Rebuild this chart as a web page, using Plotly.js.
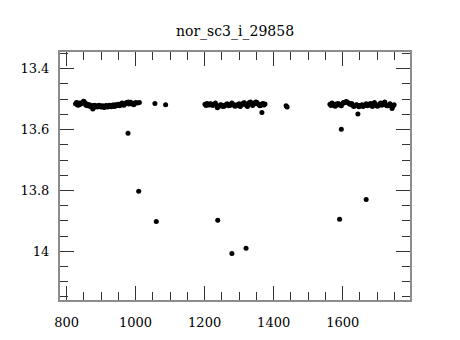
<!DOCTYPE html>
<html>
<head>
<meta charset="utf-8">
<script src="https://cdn.plot.ly/plotly-3.0.1.min.js"></script>
<style>html,body{margin:0;padding:0;background:#fff;}#chart{width:460px;height:340px;}</style>
</head>
<body>
<div id="chart"></div>
<script>
const chartTitle = "nor_sc3_i_29858";

// Segment 1 of the light curve
const band1X = [826, 829, 831, 834, 836, 839, 841, 844, 846, 849, 851, 854, 856, 859, 861, 864, 866, 869, 871, 874, 876, 879, 881, 884, 886, 889, 891, 894, 896, 899, 901, 904, 906, 909, 911, 914, 916, 919, 921, 924, 926, 929, 931, 934, 936, 939, 941, 944, 946, 949, 951, 954, 956, 959, 961, 964, 966, 969, 971, 974, 976, 979, 981, 984, 986, 989, 991, 994, 996, 999, 1001, 1006, 1011, 1056, 1087];
const band1Y = [13.515, 13.511, 13.518, 13.52, 13.513, 13.517, 13.516, 13.512, 13.512, 13.507, 13.508, 13.514, 13.52, 13.516, 13.522, 13.519, 13.518, 13.524, 13.525, 13.521, 13.532, 13.527, 13.52, 13.524, 13.522, 13.526, 13.524, 13.52, 13.521, 13.525, 13.526, 13.522, 13.523, 13.527, 13.525, 13.521, 13.522, 13.526, 13.524, 13.52, 13.521, 13.525, 13.523, 13.519, 13.52, 13.524, 13.518, 13.522, 13.521, 13.517, 13.519, 13.522, 13.517, 13.514, 13.513, 13.518, 13.52, 13.516, 13.515, 13.511, 13.512, 13.509, 13.516, 13.513, 13.51, 13.514, 13.514, 13.518, 13.517, 13.512, 13.512, 13.513, 13.511, 13.514, 13.518];

// Segment 2
const band2X = [1201, 1204, 1207, 1210, 1213, 1216, 1219, 1222, 1225, 1228, 1231, 1234, 1237, 1240, 1243, 1246, 1249, 1252, 1255, 1258, 1261, 1264, 1267, 1270, 1273, 1276, 1279, 1282, 1285, 1288, 1291, 1294, 1297, 1300, 1303, 1306, 1309, 1312, 1315, 1318, 1321, 1324, 1327, 1330, 1333, 1336, 1339, 1342, 1345, 1348, 1351, 1354, 1357, 1360, 1363, 1366, 1369, 1372, 1375, 1436, 1439];
const band2Y = [13.517, 13.521, 13.514, 13.518, 13.519, 13.515, 13.516, 13.52, 13.52, 13.517, 13.513, 13.519, 13.528, 13.524, 13.522, 13.518, 13.519, 13.523, 13.524, 13.52, 13.52, 13.516, 13.516, 13.522, 13.521, 13.517, 13.513, 13.519, 13.518, 13.523, 13.522, 13.518, 13.519, 13.515, 13.524, 13.52, 13.517, 13.513, 13.512, 13.517, 13.52, 13.524, 13.514, 13.511, 13.509, 13.515, 13.521, 13.517, 13.513, 13.509, 13.51, 13.515, 13.518, 13.522, 13.52, 13.516, 13.514, 13.519, 13.516, 13.522, 13.526];

// Segment 3
const band3X = [1563, 1566, 1569, 1572, 1575, 1578, 1581, 1584, 1587, 1590, 1593, 1596, 1599, 1602, 1605, 1608, 1611, 1614, 1617, 1620, 1623, 1626, 1629, 1632, 1635, 1638, 1641, 1644, 1647, 1650, 1653, 1656, 1659, 1662, 1665, 1668, 1671, 1674, 1677, 1680, 1683, 1686, 1689, 1692, 1695, 1698, 1701, 1704, 1707, 1710, 1713, 1716, 1719, 1722, 1725, 1728, 1731, 1734, 1737, 1740, 1743, 1746, 1749];
const band3Y = [13.517, 13.521, 13.513, 13.517, 13.52, 13.523, 13.516, 13.519, 13.514, 13.518, 13.519, 13.522, 13.515, 13.511, 13.512, 13.509, 13.508, 13.511, 13.513, 13.516, 13.517, 13.514, 13.52, 13.524, 13.522, 13.519, 13.518, 13.522, 13.525, 13.521, 13.521, 13.518, 13.524, 13.52, 13.519, 13.515, 13.522, 13.519, 13.518, 13.514, 13.521, 13.524, 13.514, 13.511, 13.519, 13.522, 13.523, 13.519, 13.516, 13.513, 13.52, 13.517, 13.513, 13.509, 13.518, 13.522, 13.522, 13.519, 13.515, 13.52, 13.531, 13.523, 13.518];

// Faint outliers
const outX = [978, 1009, 1060, 1238, 1279, 1320, 1366, 1591, 1596, 1644, 1668];
const outY = [13.612, 13.803, 13.902, 13.898, 14.007, 13.99, 13.544, 13.895, 13.599, 13.549, 13.83];

const xAll = band1X.concat(band2X, band3X, outX);
const yAll = band1Y.concat(band2Y, band3Y, outY);

const fontFam = '"DejaVu Serif", "Liberation Serif", serif';

const axisCommon = {
  showline: true,
  linecolor: '#8c8c8c',
  linewidth: 2,
  mirror: 'allticks',
  ticks: 'inside',
  ticklen: 14,
  tickwidth: 1,
  tickcolor: '#333',
  showgrid: false,
  zeroline: false,
  tickfont: {family: fontFam, size: 13, color: '#000'}
};

const trace = {
  x: xAll,
  y: yAll,
  type: 'scatter',
  mode: 'markers',
  marker: {color: '#000', size: 5},
  hoverinfo: 'none'
};

const layout = {
  width: 460,
  height: 340,
  margin: {l: 60, r: 50, t: 52, b: 40},
  paper_bgcolor: '#fff',
  plot_bgcolor: '#fff',
  showlegend: false,
  title: {text: chartTitle, font: {family: fontFam, size: 14, color: '#000'}, xref: 'paper', x: 0.5, y: 0.91, yanchor: 'middle'},
  xaxis: Object.assign({}, axisCommon, {
    range: [781, 1795],
    tick0: 800, dtick: 200,
    ticklabelstandoff: 9,
    minor: {ticks: 'inside', ticklen: 8, tickwidth: 1, tickcolor: '#333', dtick: 50, tick0: 800, showgrid: false}
  }),
  yaxis: Object.assign({}, axisCommon, {
    range: [14.16, 13.345],
    tick0: 13.4, dtick: 0.2,
    ticklabelstandoff: 6,
    minor: {ticks: 'inside', ticklen: 8, tickwidth: 1, tickcolor: '#333', dtick: 0.05, tick0: 13.4, showgrid: false}
  })
};

Plotly.newPlot('chart', [trace], layout, {displayModeBar: false, staticPlot: true});
</script>
</body>
</html>
